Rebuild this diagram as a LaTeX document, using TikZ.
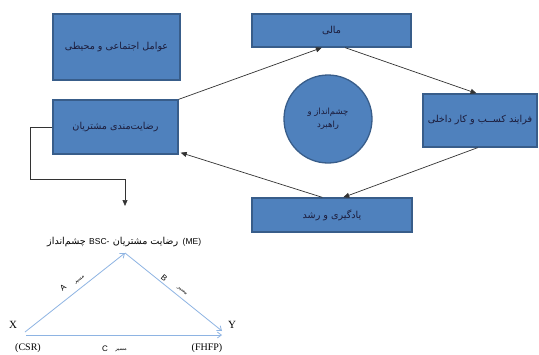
\documentclass[tikz,border=0pt]{standalone}
\usepackage{fontspec}
\setmainfont{Liberation Serif}
\setsansfont{Liberation Sans}
\newfontfamily\fa[Script=Arabic]{DejaVu Sans}
\TeXXeTstate=1
\usetikzlibrary{arrows.meta,calc}

\definecolor{boxfill}{HTML}{4F81BD}
\definecolor{boxedge}{HTML}{385D8A}
\definecolor{boxtext}{HTML}{1B1B3A}
\definecolor{pathblue}{HTML}{8EB4E3}

% right-to-left Persian run
\newcommand{\rtl}[1]{{\fa\beginR #1\endR}}
% the Persian word for "path", set small
\newcommand{\pathword}{{\fontsize{5}{6}\selectfont\rtl{مسیر}}}

\begin{document}
\begin{tikzpicture}[x=1pt,y=-1pt,
  bsc/.style={draw=boxedge, fill=boxfill, line width=1.3pt, inner sep=0pt,
    text=boxtext, font=\fontsize{9.6}{12}\selectfont, align=center},
  flow/.style={draw=black!80, line width=0.7pt, -{Triangle[length=6pt,width=5pt]}},
  tri/.style={draw=pathblue, line width=0.8pt, -{Straight Barb[length=4pt,width=6pt]}},
  lbl/.style={inner sep=0pt, font=\fontsize{8.5}{10}\selectfont, anchor=west},
  falbl/.style={lbl, font=\fontsize{9.6}{11}\selectfont},
  letter/.style={inner sep=0pt, sloped, font=\sffamily\fontsize{8}{9}\selectfont},
  pword/.style={inner sep=0pt, sloped}
]
\useasboundingbox (0,0) rectangle (539,354);
\fill[white] (0,0) rectangle (539,354);

% balanced scorecard perspectives
\node[bsc, minimum width=127pt, minimum height=66pt] (social) at (116.5,47) {\rtl{عوامل اجتماعی و محیطی}};
\node[bsc, minimum width=125pt, minimum height=54pt] (rez) at (115.5,127) {\rtl{رضایت‌مندی مشتریان}};
\node[bsc, minimum width=159pt, minimum height=33pt] (mali) at (331.5,30.5) {\rtl{مالی}};
\node[bsc, minimum width=114pt, minimum height=53pt] (proc) at (480,120.5) {\rtl{فرایند کســب و کار داخلی}};
\node[bsc, minimum width=160pt, minimum height=34pt] (learn) at (332,215) {\rtl{یادگیری و رشد}};
\node[bsc, circle, minimum size=88pt, font=\fontsize{8.5}{11}\selectfont] (vision) at (328,119) {\rtl{چشم‌انداز و}\\[2pt]\rtl{راهبرد}};

% cycle between the perspectives
\draw[flow] (rez.north east) -- ($(mali.south west)!0.44!(mali.south east)$);
\draw[flow] ($(mali.south west)!0.585!(mali.south east)$) -- ($(proc.north west)!0.47!(proc.north east)$);
\draw[flow] ($(proc.south west)!0.48!(proc.south east)$) -- ($(learn.north west)!0.57!(learn.north east)$);
\draw[flow] ($(learn.north west)!0.44!(learn.north east)$) -- ($(rez.south east)+(2,-2)$);

% link down to the mediation model
\coordinate (down) at (125,206);
\draw[flow] (rez.west) -- ++(-22,0) |- (125,179) -- (down);

% mediation model title, pieces set left to right
\node[falbl] (t1) at (47,242) {\rtl{چشم‌انداز}};
\node[lbl] (t2) at ([xshift=3pt]t1.east) {\sffamily BSC-};
\node[falbl] (t3) at ([xshift=3pt]t2.east) {\rtl{رضایت مشتریان}};
\node[lbl] (t4) at ([xshift=4pt]t3.east) {\sffamily(ME)};

% mediation triangle
\coordinate (px) at (25,332);
\coordinate (pm) at (125,253);
\coordinate (py) at (222,331);
\coordinate (pxc) at (26,335);
\coordinate (pyc) at (222,335);

\draw[tri] (px) -- node[letter, pos=0.45, above=8pt] (la) {A}
                   node[pword, pos=0.59, above=5pt] (wa) {\pathword} (pm);
\draw[tri] (pm) -- node[letter, pos=0.37, above=2pt] (lb) {B}
                   node[pword, pos=0.55, above=4pt] (wb) {\pathword} (py);
\draw[tri] (pxc) -- (pyc);

\node[font=\fontsize{11}{12}\selectfont] (xl) at (13,325) {X};
\node[font=\fontsize{11}{12}\selectfont] (yl) at (232,325) {Y};
\node[font=\fontsize{10}{12}\selectfont] (csr) at (28,348) {(CSR)};
\node[font=\fontsize{10}{12}\selectfont] (fhfp) at (207,348) {(FHFP)};
\node[font=\sffamily\fontsize{8}{9}\selectfont, inner sep=0pt] (lc) at (105,349) {C};
\node[inner sep=0pt] (wc) at (121,350) {\pathword};
\end{tikzpicture}
\end{document}
